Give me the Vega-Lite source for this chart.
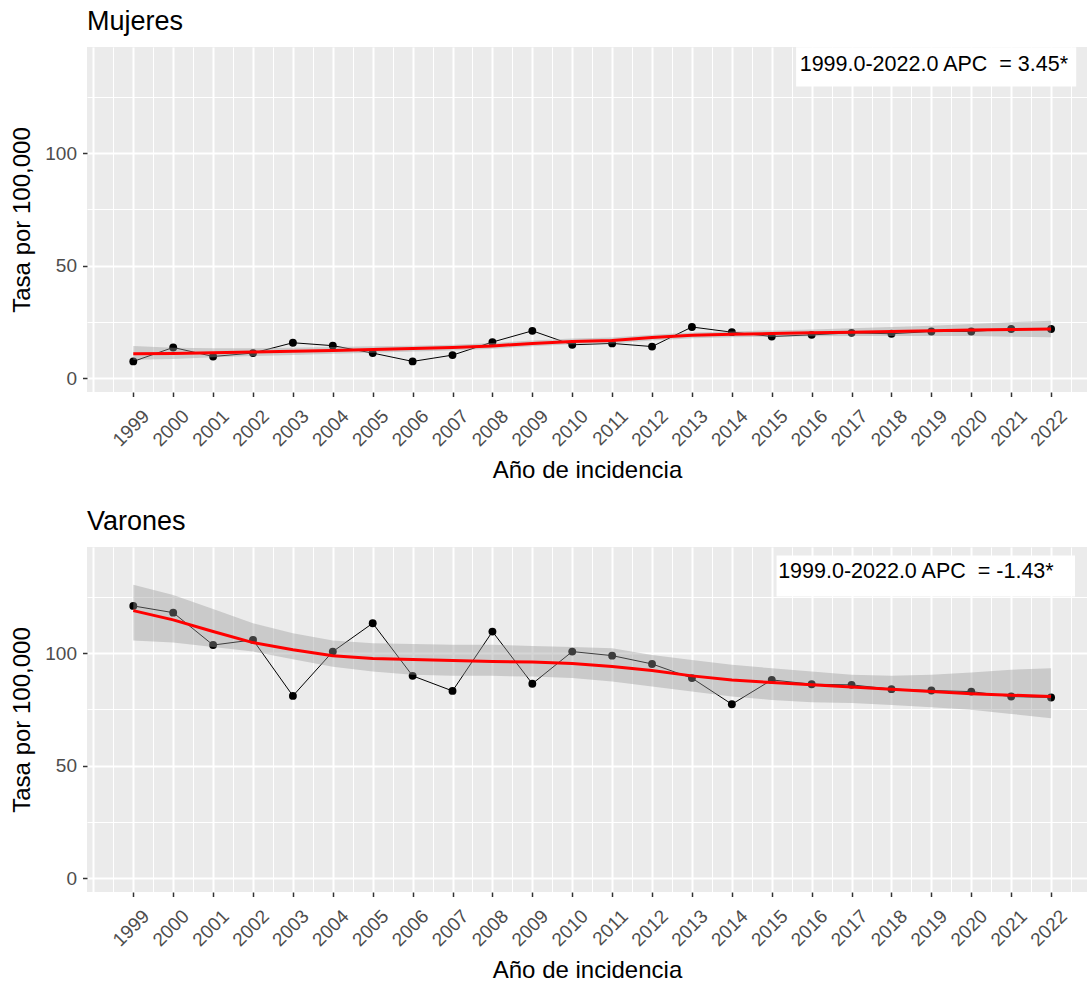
{
  "$schema": "https://vega.github.io/schema/vega-lite/v6.json",
  "background": "white",
  "padding": {"left": 10, "top": 8, "right": 0, "bottom": 5},
  "datasets": {
    "mujeres": [
      {"anio": 1999, "tasa": 7.4, "ajuste": 10.8, "li": 8.1, "ls": 14.3},
      {"anio": 2000, "tasa": 13.6, "ajuste": 10.95, "li": 8.5, "ls": 13.5},
      {"anio": 2001, "tasa": 9.6, "ajuste": 11.25, "li": 9.2, "ls": 13.3},
      {"anio": 2002, "tasa": 11.1, "ajuste": 11.55, "li": 9.8, "ls": 13.3},
      {"anio": 2003, "tasa": 15.7, "ajuste": 11.9, "li": 10.3, "ls": 13.5},
      {"anio": 2004, "tasa": 14.4, "ajuste": 12.3, "li": 10.8, "ls": 13.8},
      {"anio": 2005, "tasa": 11.1, "ajuste": 12.7, "li": 11.3, "ls": 14.1},
      {"anio": 2006, "tasa": 7.4, "ajuste": 13.1, "li": 11.8, "ls": 14.4},
      {"anio": 2007, "tasa": 10.2, "ajuste": 13.55, "li": 12.25, "ls": 14.85},
      {"anio": 2008, "tasa": 16.0, "ajuste": 14.3, "li": 13.0, "ls": 15.6},
      {"anio": 2009, "tasa": 21.0, "ajuste": 15.4, "li": 14.1, "ls": 16.7},
      {"anio": 2010, "tasa": 14.8, "ajuste": 16.3, "li": 15.0, "ls": 17.6},
      {"anio": 2011, "tasa": 15.4, "ajuste": 16.7, "li": 15.4, "ls": 18.0},
      {"anio": 2012, "tasa": 14.0, "ajuste": 18.0, "li": 16.7, "ls": 19.3},
      {"anio": 2013, "tasa": 22.7, "ajuste": 19.0, "li": 17.7, "ls": 20.3},
      {"anio": 2014, "tasa": 20.4, "ajuste": 19.45, "li": 18.15, "ls": 20.75},
      {"anio": 2015, "tasa": 18.5, "ajuste": 19.8, "li": 18.4, "ls": 21.2},
      {"anio": 2016, "tasa": 19.2, "ajuste": 20.1, "li": 18.6, "ls": 21.6},
      {"anio": 2017, "tasa": 20.1, "ajuste": 20.4, "li": 18.7, "ls": 22.1},
      {"anio": 2018, "tasa": 19.7, "ajuste": 20.7, "li": 18.7, "ls": 22.7},
      {"anio": 2019, "tasa": 20.7, "ajuste": 21.0, "li": 18.7, "ls": 23.3},
      {"anio": 2020, "tasa": 20.7, "ajuste": 21.35, "li": 18.65, "ls": 24.05},
      {"anio": 2021, "tasa": 21.8, "ajuste": 21.6, "li": 18.4, "ls": 24.8},
      {"anio": 2022, "tasa": 21.8, "ajuste": 21.8, "li": 18.1, "ls": 25.5}
    ],
    "varones": [
      {"anio": 1999, "tasa": 121.0, "ajuste": 118.9, "li": 105.6, "ls": 130.4},
      {"anio": 2000, "tasa": 118.0, "ajuste": 114.8, "li": 104.7, "ls": 125.9},
      {"anio": 2001, "tasa": 103.6, "ajuste": 109.6, "li": 102.7, "ls": 119.6},
      {"anio": 2002, "tasa": 105.9, "ajuste": 104.7, "li": 100.7, "ls": 113.3},
      {"anio": 2003, "tasa": 81.0, "ajuste": 101.5, "li": 97.3, "ls": 108.9},
      {"anio": 2004, "tasa": 100.7, "ajuste": 98.8, "li": 94.0, "ls": 105.6},
      {"anio": 2005, "tasa": 113.3, "ajuste": 97.6, "li": 91.8, "ls": 104.4},
      {"anio": 2006, "tasa": 89.9, "ajuste": 97.2, "li": 90.4, "ls": 104.1},
      {"anio": 2007, "tasa": 83.2, "ajuste": 96.7, "li": 89.9, "ls": 103.7},
      {"anio": 2008, "tasa": 109.6, "ajuste": 96.3, "li": 89.9, "ls": 103.7},
      {"anio": 2009, "tasa": 86.4, "ajuste": 96.1, "li": 89.6, "ls": 103.2},
      {"anio": 2010, "tasa": 100.7, "ajuste": 95.4, "li": 88.9, "ls": 102.7},
      {"anio": 2011, "tasa": 98.9, "ajuste": 94.1, "li": 87.4, "ls": 102.2},
      {"anio": 2012, "tasa": 95.2, "ajuste": 92.3, "li": 85.2, "ls": 99.2},
      {"anio": 2013, "tasa": 88.9, "ajuste": 89.9, "li": 82.9, "ls": 97.0},
      {"anio": 2014, "tasa": 77.3, "ajuste": 88.1, "li": 80.7, "ls": 94.8},
      {"anio": 2015, "tasa": 88.1, "ajuste": 86.9, "li": 79.2, "ls": 93.3},
      {"anio": 2016, "tasa": 86.2, "ajuste": 86.0, "li": 78.2, "ls": 91.8},
      {"anio": 2017, "tasa": 85.9, "ajuste": 84.9, "li": 77.8, "ls": 90.4},
      {"anio": 2018, "tasa": 84.0, "ajuste": 84.0, "li": 77.0, "ls": 89.9},
      {"anio": 2019, "tasa": 83.4, "ajuste": 82.9, "li": 76.0, "ls": 90.4},
      {"anio": 2020, "tasa": 82.9, "ajuste": 82.0, "li": 74.8, "ls": 91.4},
      {"anio": 2021, "tasa": 80.7, "ajuste": 81.3, "li": 73.0, "ls": 92.6},
      {"anio": 2022, "tasa": 80.3, "ajuste": 80.7, "li": 71.1, "ls": 93.3}
    ]
  },
  "config": {
    "font": "Liberation Sans",
    "view": {"fill": "#EBEBEB", "stroke": null},
    "axis": {
      "domain": false,
      "labelFont": "Liberation Sans",
      "labelColor": "#4D4D4D",
      "labelFontSize": 19,
      "labelFlush": false,
      "labelOverlap": false,
      "labelBound": false,
      "titleFont": "Liberation Sans",
      "titleFontSize": 24,
      "titleFontWeight": "normal",
      "titleColor": "black",
      "tickColor": "#333333",
      "tickSize": 4.5,
      "tickWidth": 1.5,
      "gridColor": "white"
    },
    "title": {"anchor": "start", "frame": "group", "font": "Liberation Sans", "fontSize": 27, "fontWeight": "normal", "color": "black", "offset": 11}
  },
  "spacing": 155,
  "bounds": "flush",
  "vconcat": [
    {
      "title": "Mujeres",
      "width": 1000,
      "height": 345,
      "data": {"name": "mujeres"},
      "resolve": {"axis": {"x": "independent", "y": "independent"}},
      "layer": [
        {
          "mark": {"type": "point", "opacity": 0},
          "encoding": {
            "x": {"field": "anio", "type": "quantitative", "scale": {"domain": [1997.84, 2022.9], "nice": false, "zero": false},
              "axis": {"orient": "bottom", "values": [1998,1998.5,1999,1999.5,2000,2000.5,2001,2001.5,2002,2002.5,2003,2003.5,2004,2004.5,2005,2005.5,2006,2006.5,2007,2007.5,2008,2008.5,2009,2009.5,2010,2010.5,2011,2011.5,2012,2012.5,2013,2013.5,2014,2014.5,2015,2015.5,2016,2016.5,2017,2017.5,2018,2018.5,2019,2019.5,2020,2020.5,2021,2021.5,2022,2022.5],
                "grid": true, "labels": false, "ticks": false, "title": null,
                "gridWidth": {"condition": {"test": "datum.value % 1 === 0", "value": 2}, "value": 1}}},
            "y": {"field": "tasa", "type": "quantitative", "scale": {"domain": [-6.2, 147.2], "nice": false, "zero": false},
              "axis": {"orient": "left", "values": [0, 25, 50, 75, 100, 125], "grid": true, "labels": false, "ticks": false, "title": null,
                "gridWidth": {"condition": {"test": "datum.value % 50 === 0", "value": 2}, "value": 1}}}
          }
        },
        {
          "mark": {"type": "line", "color": "black", "strokeWidth": 1},
          "encoding": {
            "x": {"field": "anio", "type": "quantitative", "scale": {"domain": [1997.84, 2022.9], "nice": false, "zero": false},
              "axis": {"orient": "bottom", "values": [1999,2000,2001,2002,2003,2004,2005,2006,2007,2008,2009,2010,2011,2012,2013,2014,2015,2016,2017,2018,2019,2020,2021,2022],
                "format": "d", "grid": false, "labelAngle": -45, "labelAlign": "right", "labelBaseline": "top", "labelPadding": 10, "labelOffset": 6,
                "title": "Año de incidencia", "titlePadding": 9}},
            "y": {"field": "tasa", "type": "quantitative", "scale": {"domain": [-6.2, 147.2], "nice": false, "zero": false},
              "axis": {"orient": "left", "values": [0, 50, 100], "grid": false, "labelPadding": 6, "title": "Tasa por 100,000", "titlePadding": 10}}
          }
        },
        {
          "mark": {"type": "circle", "color": "black", "size": 62, "opacity": 1},
          "encoding": {
            "x": {"field": "anio", "type": "quantitative", "axis": null},
            "y": {"field": "tasa", "type": "quantitative", "axis": null}
          }
        },
        {
          "mark": {"type": "area", "color": "#999999", "opacity": 0.4},
          "encoding": {
            "x": {"field": "anio", "type": "quantitative", "axis": null},
            "y": {"field": "li", "type": "quantitative", "axis": null},
            "y2": {"field": "ls"}
          }
        },
        {
          "mark": {"type": "line", "color": "#FF0000", "strokeWidth": 3},
          "encoding": {
            "x": {"field": "anio", "type": "quantitative", "axis": null},
            "y": {"field": "ajuste", "type": "quantitative", "axis": null}
          }
        },
        {
          "data": {"values": [{"etiqueta": "1999.0-2022.0 APC \u00a0= 3.45*"}]},
          "mark": {"type": "rect", "fill": "white"},
          "encoding": {
            "x": {"datum": 2015.61, "type": "quantitative", "axis": null},
            "x2": {"datum": 2022.63},
            "y": {"datum": 147.1, "type": "quantitative", "axis": null},
            "y2": {"datum": 129.6}
          }
        },
        {
          "data": {"values": [{"etiqueta": "1999.0-2022.0 APC \u00a0= 3.45*"}]},
          "mark": {"type": "text", "align": "left", "baseline": "middle", "font": "Liberation Sans", "fontSize": 21.5, "color": "black"},
          "encoding": {
            "x": {"datum": 2015.7, "type": "quantitative", "axis": null},
            "y": {"datum": 139.2, "type": "quantitative", "axis": null},
            "text": {"field": "etiqueta"}
          }
        }
      ]
    },
    {
      "title": "Varones",
      "width": 1000,
      "height": 345,
      "data": {"name": "varones"},
      "resolve": {"axis": {"x": "independent", "y": "independent"}},
      "layer": [
        {
          "mark": {"type": "point", "opacity": 0},
          "encoding": {
            "x": {"field": "anio", "type": "quantitative", "scale": {"domain": [1997.84, 2022.9], "nice": false, "zero": false},
              "axis": {"orient": "bottom", "values": [1998,1998.5,1999,1999.5,2000,2000.5,2001,2001.5,2002,2002.5,2003,2003.5,2004,2004.5,2005,2005.5,2006,2006.5,2007,2007.5,2008,2008.5,2009,2009.5,2010,2010.5,2011,2011.5,2012,2012.5,2013,2013.5,2014,2014.5,2015,2015.5,2016,2016.5,2017,2017.5,2018,2018.5,2019,2019.5,2020,2020.5,2021,2021.5,2022,2022.5],
                "grid": true, "labels": false, "ticks": false, "title": null,
                "gridWidth": {"condition": {"test": "datum.value % 1 === 0", "value": 2}, "value": 1}}},
            "y": {"field": "tasa", "type": "quantitative", "scale": {"domain": [-6.2, 147.2], "nice": false, "zero": false},
              "axis": {"orient": "left", "values": [0, 25, 50, 75, 100, 125], "grid": true, "labels": false, "ticks": false, "title": null,
                "gridWidth": {"condition": {"test": "datum.value % 50 === 0", "value": 2}, "value": 1}}}
          }
        },
        {
          "mark": {"type": "line", "color": "black", "strokeWidth": 1},
          "encoding": {
            "x": {"field": "anio", "type": "quantitative", "scale": {"domain": [1997.84, 2022.9], "nice": false, "zero": false},
              "axis": {"orient": "bottom", "values": [1999,2000,2001,2002,2003,2004,2005,2006,2007,2008,2009,2010,2011,2012,2013,2014,2015,2016,2017,2018,2019,2020,2021,2022],
                "format": "d", "grid": false, "labelAngle": -45, "labelAlign": "right", "labelBaseline": "top", "labelPadding": 10, "labelOffset": 6,
                "title": "Año de incidencia", "titlePadding": 9}},
            "y": {"field": "tasa", "type": "quantitative", "scale": {"domain": [-6.2, 147.2], "nice": false, "zero": false},
              "axis": {"orient": "left", "values": [0, 50, 100], "grid": false, "labelPadding": 6, "title": "Tasa por 100,000", "titlePadding": 10}}
          }
        },
        {
          "mark": {"type": "circle", "color": "black", "size": 62, "opacity": 1},
          "encoding": {
            "x": {"field": "anio", "type": "quantitative", "axis": null},
            "y": {"field": "tasa", "type": "quantitative", "axis": null}
          }
        },
        {
          "mark": {"type": "area", "color": "#999999", "opacity": 0.4},
          "encoding": {
            "x": {"field": "anio", "type": "quantitative", "axis": null},
            "y": {"field": "li", "type": "quantitative", "axis": null},
            "y2": {"field": "ls"}
          }
        },
        {
          "mark": {"type": "line", "color": "#FF0000", "strokeWidth": 3},
          "encoding": {
            "x": {"field": "anio", "type": "quantitative", "axis": null},
            "y": {"field": "ajuste", "type": "quantitative", "axis": null}
          }
        },
        {
          "data": {"values": [{"etiqueta": "1999.0-2022.0 APC \u00a0= -1.43*"}]},
          "mark": {"type": "rect", "fill": "white"},
          "encoding": {
            "x": {"datum": 2015.12, "type": "quantitative", "axis": null},
            "x2": {"datum": 2022.6},
            "y": {"datum": 143.4, "type": "quantitative", "axis": null},
            "y2": {"datum": 125.2}
          }
        },
        {
          "data": {"values": [{"etiqueta": "1999.0-2022.0 APC \u00a0= -1.43*"}]},
          "mark": {"type": "text", "align": "left", "baseline": "middle", "font": "Liberation Sans", "fontSize": 21.5, "color": "black"},
          "encoding": {
            "x": {"datum": 2015.16, "type": "quantitative", "axis": null},
            "y": {"datum": 135.9, "type": "quantitative", "axis": null},
            "text": {"field": "etiqueta"}
          }
        }
      ]
    }
  ]
}
